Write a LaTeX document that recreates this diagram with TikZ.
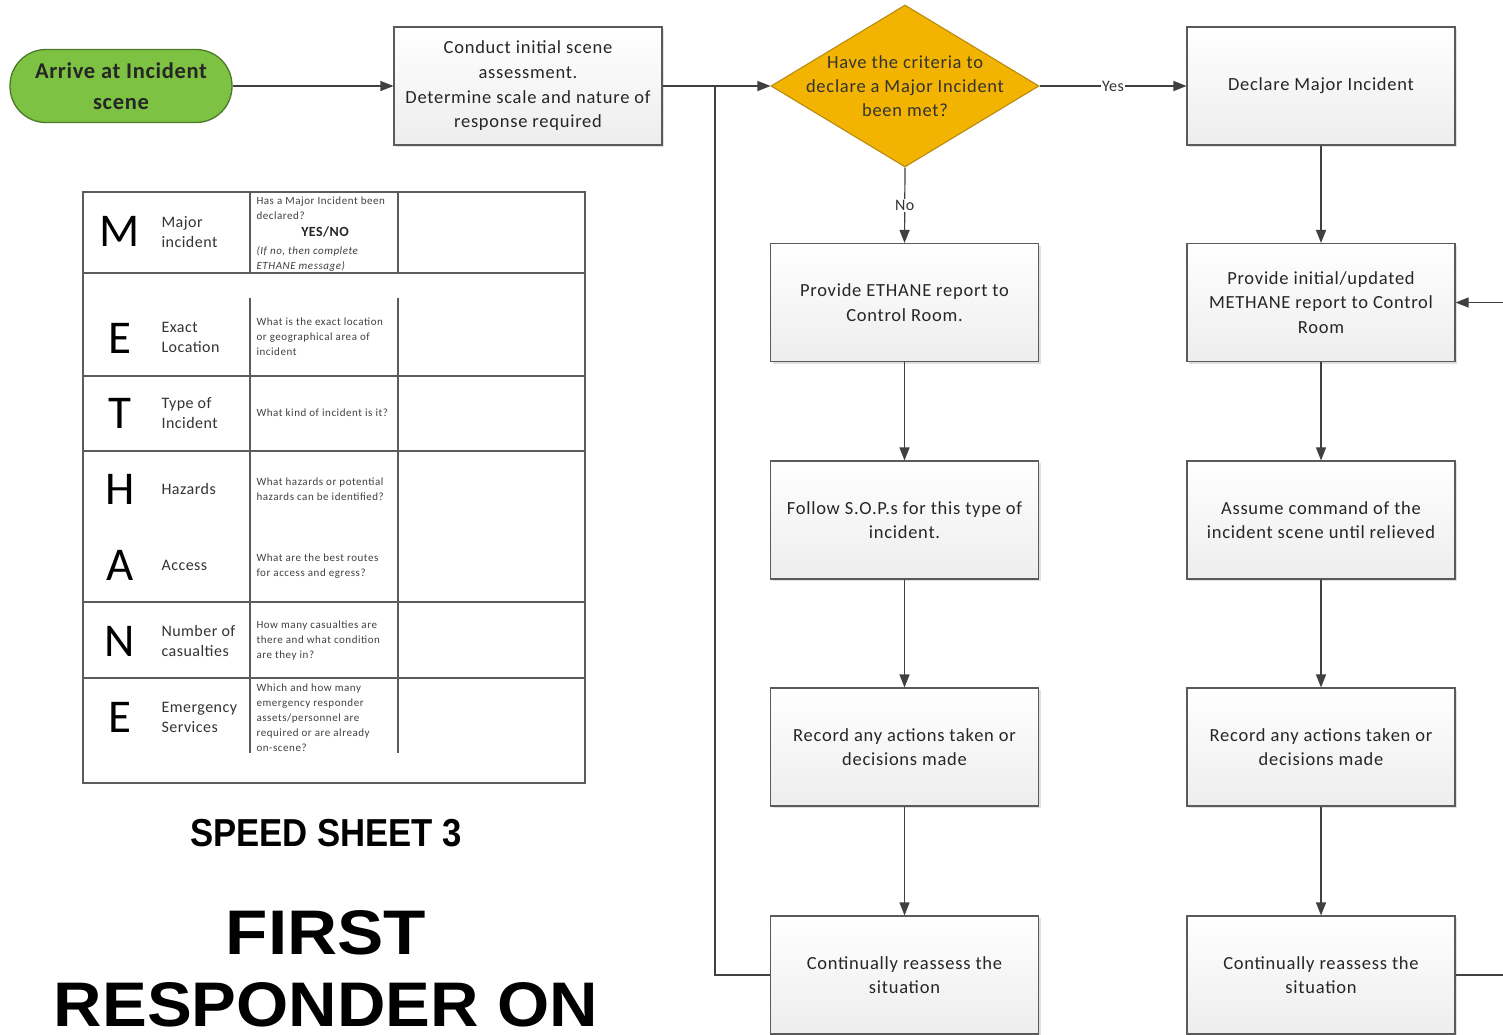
\documentclass[tikz,border=0pt]{standalone}
\usepackage{fontspec}
\setmainfont{Carlito}
\newfontfamily\headfont{Liberation Sans}
\usetikzlibrary{arrows.meta,shapes.geometric,shadows}
\definecolor{linegray}{HTML}{404040}
\definecolor{boxedge}{HTML}{5A5A5A}
\definecolor{startgreen}{HTML}{7DC242}
\definecolor{startedge}{HTML}{4A7A2A}
\definecolor{decfill}{HTML}{F2B400}
\definecolor{decedge}{HTML}{B88A10}
\definecolor{tabline}{HTML}{5C5C5C}
\newcommand{\spaced}[1]{\addfontfeature{LetterSpace=#1}}
\tikzset{
  procbox/.style={draw=boxedge, line width=1.1pt, top color=white, bottom color=black!7,
    minimum width=268pt, minimum height=118pt, inner sep=0pt, align=center,
    text=black!85, font=\fontsize{18.5}{24.7}\selectfont\spaced{4},
    general shadow={shadow xshift=2pt, shadow yshift=-2pt, fill=black, opacity=0.12}},
  flow/.style={draw=linegray, line width=1.2pt},
  arrow/.style={flow, -{Triangle[length=13pt,width=10pt]}},
  lbl/.style={fill=white, inner sep=1.5pt, text=black!80, font=\fontsize{16}{18}\selectfont\spaced{3}},
  tabout/.style={draw=tabline, line width=1.6pt},
  tabin/.style={draw=tabline, line width=1.2pt},
  letter/.style={font=\fontsize{47}{47}\selectfont, text=black},
  rowname/.style={anchor=west, align=left, text=black!80, font=\fontsize{16}{20}\selectfont\spaced{3}},
  question/.style={anchor=west, align=left, text=black!75, font=\fontsize{11}{15}\selectfont\spaced{5}},
}
\begin{document}
\begin{tikzpicture}[x=1pt,y=-1pt]
\useasboundingbox[fill=white] (0,0) rectangle (1503,1034);

% start terminal
\node[draw=startedge, line width=1.3pt, fill=startgreen,
  rounded corners=36pt, minimum width=222pt, minimum height=73pt, inner sep=0pt, align=center,
  font=\bfseries\fontsize{22.5}{31}\selectfont\spaced{3}, text=black!85] (start) at (121,86)
  {Arrive at Incident\\scene};

% first column of the flow
\node[procbox] (assess) at (528,86)
  {Conduct initial scene\\assessment.\\Determine scale and nature of\\response required};
\node[diamond, draw=decedge, line width=1.1pt, fill=decfill, minimum width=268pt,
  minimum height=162pt, inner sep=0pt] (crit) at (905,86) {};
\node[align=center, text=black!80, font=\fontsize{18.5}{24}\selectfont\spaced{4}] (critText) at (crit)
  {Have the criteria to\\declare a Major Incident\\been met?};
\node[procbox] (declare) at (1321,86) {Declare Major Incident};

% ETHANE branch
\node[procbox] (ethane) at (904.5,302.5) {Provide ETHANE report to\\Control Room.};
\node[procbox] (sops) at (904.5,520) {Follow S.O.P.s for this type of\\incident.};
\node[procbox] (rec1) at (904.5,747) {Record any actions taken or\\decisions made};
\node[procbox] (cont1) at (904.5,975) {Continually reassess the\\situation};

% METHANE branch
\node[procbox] (methane) at (1321,302.5) {Provide initial/updated\\METHANE report to Control\\Room};
\node[procbox] (command) at (1321,520) {Assume command of the\\incident scene until relieved};
\node[procbox] (rec2) at (1321,747) {Record any actions taken or\\decisions made};
\node[procbox] (cont2) at (1321,975) {Continually reassess the\\situation};

% connectors
\coordinate (loop) at (715,86);
\coordinate (rin) at (1503,302.5);
\coordinate (rout) at (1503,975);
\draw[arrow] (start.east) -- (assess.west);
\draw[arrow] (assess.east) -- (crit.west);
\draw[flow] (cont1.west) -| (loop);
\draw[arrow] (crit.east) -- node[lbl] {Yes} (declare.west);
\draw[arrow] (crit.south) -- node[lbl] {No} (ethane.north);
\draw[arrow] (ethane) -- (sops);
\draw[arrow] (sops) -- (rec1);
\draw[arrow] (rec1) -- (cont1);
\draw[arrow] (declare) -- (methane);
\draw[arrow] (methane) -- (command);
\draw[arrow] (command) -- (rec2);
\draw[arrow] (rec2) -- (cont2);
\draw[arrow] (rin) -- (methane.east);
\draw[flow] (cont2.east) -- (rout);

% METHANE sheet
\draw[tabout] (83,192) rectangle (585,783);
\foreach \y in {273,376,451,602,678} \draw[tabin] (83,\y) -- (585,\y);
\foreach \x in {250,398} {
  \draw[tabin] (\x,192) -- (\x,273);
  \draw[tabin] (\x,298) -- (\x,753);
}
\node[letter] (lM) at (120,231) {M};
\node[letter] (lE1) at (120,338) {E};
\node[letter] (lT) at (120,413) {T};
\node[letter] (lH) at (120,489) {H};
\node[letter] (lA) at (120,565) {A};
\node[letter] (lN) at (120,641) {N};
\node[letter] (lE2) at (120,717) {E};

\node[rowname] (nM) at (158,232) {Major\\incident};
\node[rowname] (nE1) at (158,337) {Exact\\Location};
\node[rowname] (nT) at (158,413) {Type of\\Incident};
\node[rowname] (nH) at (158,489) {Hazards};
\node[rowname] (nA) at (158,565) {Access};
\node[rowname] (nN) at (158,641) {Number of\\casualties};
\node[rowname] (nE2) at (158,717) {Emergency\\Services};

\node[question] (qM1) at (253,208) {Has a Major Incident been\\declared?};
\node[font=\bfseries\fontsize{14}{15}\selectfont\spaced{3}, text=black!85] (qYN) at (325,232) {YES/NO};
\node[question, font=\itshape\fontsize{11}{15}\selectfont\spaced{5}] (qM2) at (253,259) {(If no, then complete\\ETHANE message)};
\node[question] (qE1) at (253,337) {What is the exact location\\or geographical area of\\incident};
\node[question] (qT) at (253,413) {What kind of incident is it?};
\node[question] (qH) at (253,489) {What hazards or potential\\hazards can be identified?};
\node[question] (qA) at (253,566) {What are the best routes\\for access and egress?};
\node[question] (qN) at (253,641) {How many casualties are\\there and what condition\\are they in?};
\node[question] (qE2) at (253,718) {Which and how many\\emergency responder\\assets/personnel are\\required or are already\\on-scene?};

% headings
\node[anchor=base, inner sep=0pt, font=\headfont\bfseries\fontsize{39}{39}\selectfont] (sheet) at (326,846)
  {\scalebox{0.89}[1]{SPEED SHEET 3}};
\node[anchor=base, inner sep=0pt, font=\headfont\bfseries\fontsize{63}{63}\selectfont] (first) at (326,954)
  {\scalebox{1.1}[1]{FIRST}};
\node[anchor=base, inner sep=0pt, font=\headfont\bfseries\fontsize{63}{63}\selectfont] (resp) at (326,1026)
  {\scalebox{1.065}[1]{RESPONDER ON}};
\end{tikzpicture}
\end{document}
